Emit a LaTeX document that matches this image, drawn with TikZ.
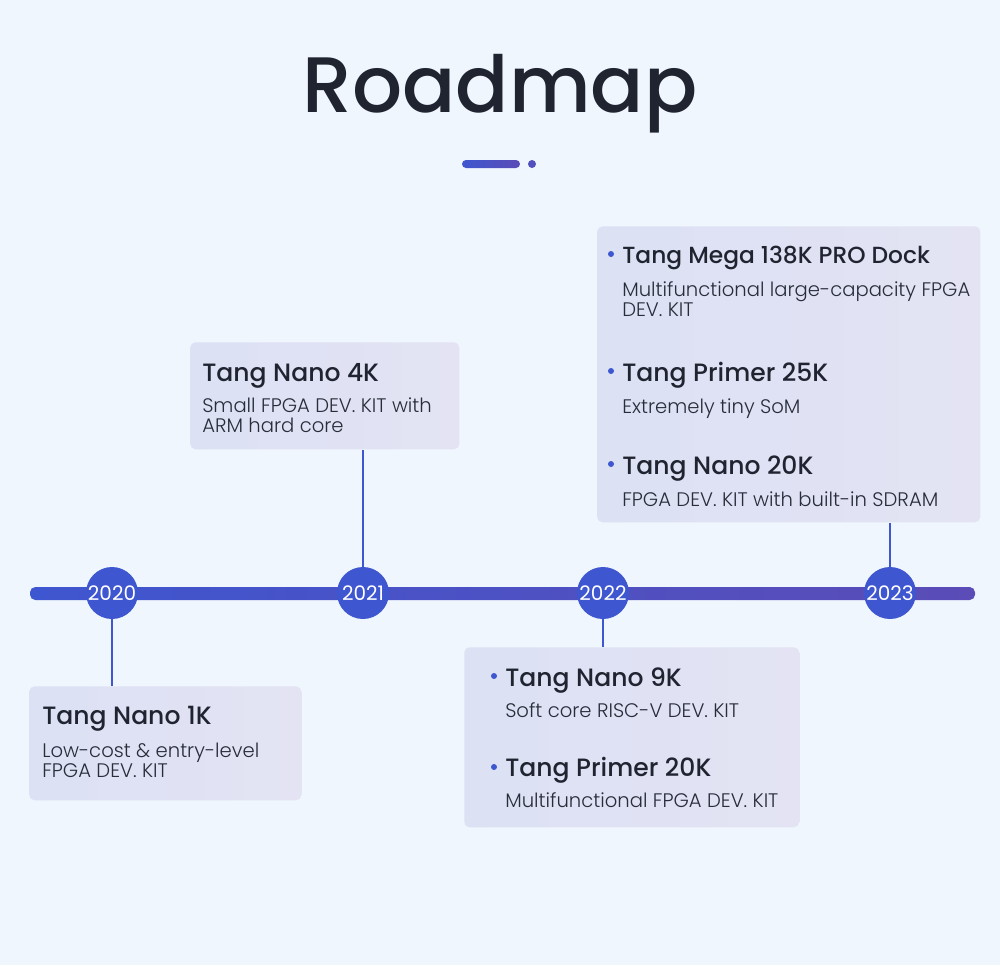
\documentclass[tikz,border=0pt]{standalone}
\usepackage{fontspec}
\setmainfont{Poppins}
\newfontfamily\medfont{Poppins Medium}
\newfontfamily\lightfont{Poppins Light}
\usetikzlibrary{positioning}
\definecolor{bgcol}{RGB}{240,246,253}
\definecolor{tlblue}{RGB}{62,86,207}
\definecolor{tlpurple}{RGB}{91,76,183}
\definecolor{inkcol}{RGB}{31,36,48}
\definecolor{desccol}{RGB}{40,45,58}
\definecolor{boxleft}{RGB}{220,225,244}
\definecolor{boxright}{RGB}{227,227,243}

\begin{document}
\begin{tikzpicture}[x=0.75pt, y=-0.75pt,
				infobox/.style={rectangle, rounded corners=4pt, left color=boxleft, right color=boxright, anchor=north west, inner sep=0pt},
				yearnode/.style={circle, fill=tlblue, minimum size=39pt, inner sep=0pt, text=white, font=\fontsize{15}{15}\selectfont},
				itemtitle/.style={anchor=base west, inner sep=0pt, text=inkcol, font=\medfont\fontsize{18.8}{18.8}\selectfont},
				itemdesc/.style={anchor=base west, inner sep=0pt, text=desccol, align=left, font=\lightfont\fontsize{14.7}{15}\selectfont},
				bulletdot/.style={circle, fill=tlblue, minimum size=4.5pt, inner sep=0pt},
				stem/.style={draw=tlblue, line width=1.5pt}]
				\fill[bgcol] (0,0) rectangle (1000,965);
				\useasboundingbox (0,0) rectangle (1000,965);
				
				\node[anchor=base, inner sep=0pt, text=inkcol, font=\medfont\fontsize{59}{59}\selectfont](title) at (500,112) {Roadmap};
				\shade[left color=tlblue, right color=tlpurple, rounded corners=3pt] (462,160) rectangle (520,168);
				\fill[tlpurple!70!tlblue] (532,164) circle (3pt);
				
				% timeline
				\shade[left color=tlblue, right color=tlpurple, rounded corners=4pt] (30,587) rectangle (975,600);
				\node[yearnode](y2020) at (112,593) {2020};
				\node[yearnode](y2021) at (363,593) {2021};
				\node[yearnode](y2022) at (603,593) {2022};
				\node[yearnode](y2023) at (890,593) {2023};
				
				% boxes
				\node[infobox, minimum width=204pt, minimum height=85.5pt](box1k) at (29,686) {};
				\node[infobox, minimum width=201.75pt, minimum height=80.25pt](box4k) at (190,342) {};
				\node[infobox, minimum width=251.25pt, minimum height=135pt](box9k) at (464,647) {};
				\node[infobox, minimum width=287.25pt, minimum height=222pt](box138k) at (597,226) {};
				
				\draw[stem] (y2020) -- (y2020 |- box1k.north);
				\draw[stem] (y2021) -- (y2021 |- box4k.south);
				\draw[stem] (y2022) -- (y2022 |- box9k.north);
				\draw[stem] (y2023) -- (y2023 |- box138k.south);
				
				% 2020 (multi-line text sits on its last baseline)
				\node[itemtitle](t1k) at (42,724) {Tang Nano 1K};
				\node[itemdesc](d1k) at (42,777) {Low-cost \& entry-level\\FPGA DEV. KIT};
				
				% 2021
				\node[itemtitle](t4k) at (202,381) {Tang Nano 4K};
				\node[itemdesc](d4k) at (202,432) {Small FPGA DEV. KIT with\\ARM hard core};
				
				% 2022
				\node[bulletdot](b9k) at (494,676) {};
				\node[itemtitle](t9k) at (505,686) {Tang Nano 9K};
				\node[itemdesc](d9k) at (505,717) {Soft core RISC-V DEV. KIT};
				\node[bulletdot](b20k) at (494,767) {};
				\node[itemtitle](tp20k) at (505,776) {Tang Primer 20K};
				\node[itemdesc](dp20k) at (505,807) {Multifunctional FPGA DEV. KIT};
				
				% 2023
				\node[bulletdot](b138k) at (611,254) {};
				\node[itemtitle, font=\medfont\fontsize{17.5}{17.5}\selectfont](t138k) at (622,263) {Tang Mega 138K PRO Dock};
				\node[itemdesc](d138k) at (622,316) {Multifunctional large-capacity FPGA\\DEV. KIT};
				\node[bulletdot](b25k) at (611,371) {};
				\node[itemtitle](tp25k) at (622,381) {Tang Primer 25K};
				\node[itemdesc](dp25k) at (622,413) {Extremely tiny SoM};
				\node[bulletdot](b20kn) at (611,464) {};
				\node[itemtitle](tn20k) at (622,474) {Tang Nano 20K};
				\node[itemdesc](dn20k) at (622,506) {FPGA DEV. KIT with built-in SDRAM};
			\end{tikzpicture}
\end{document}
